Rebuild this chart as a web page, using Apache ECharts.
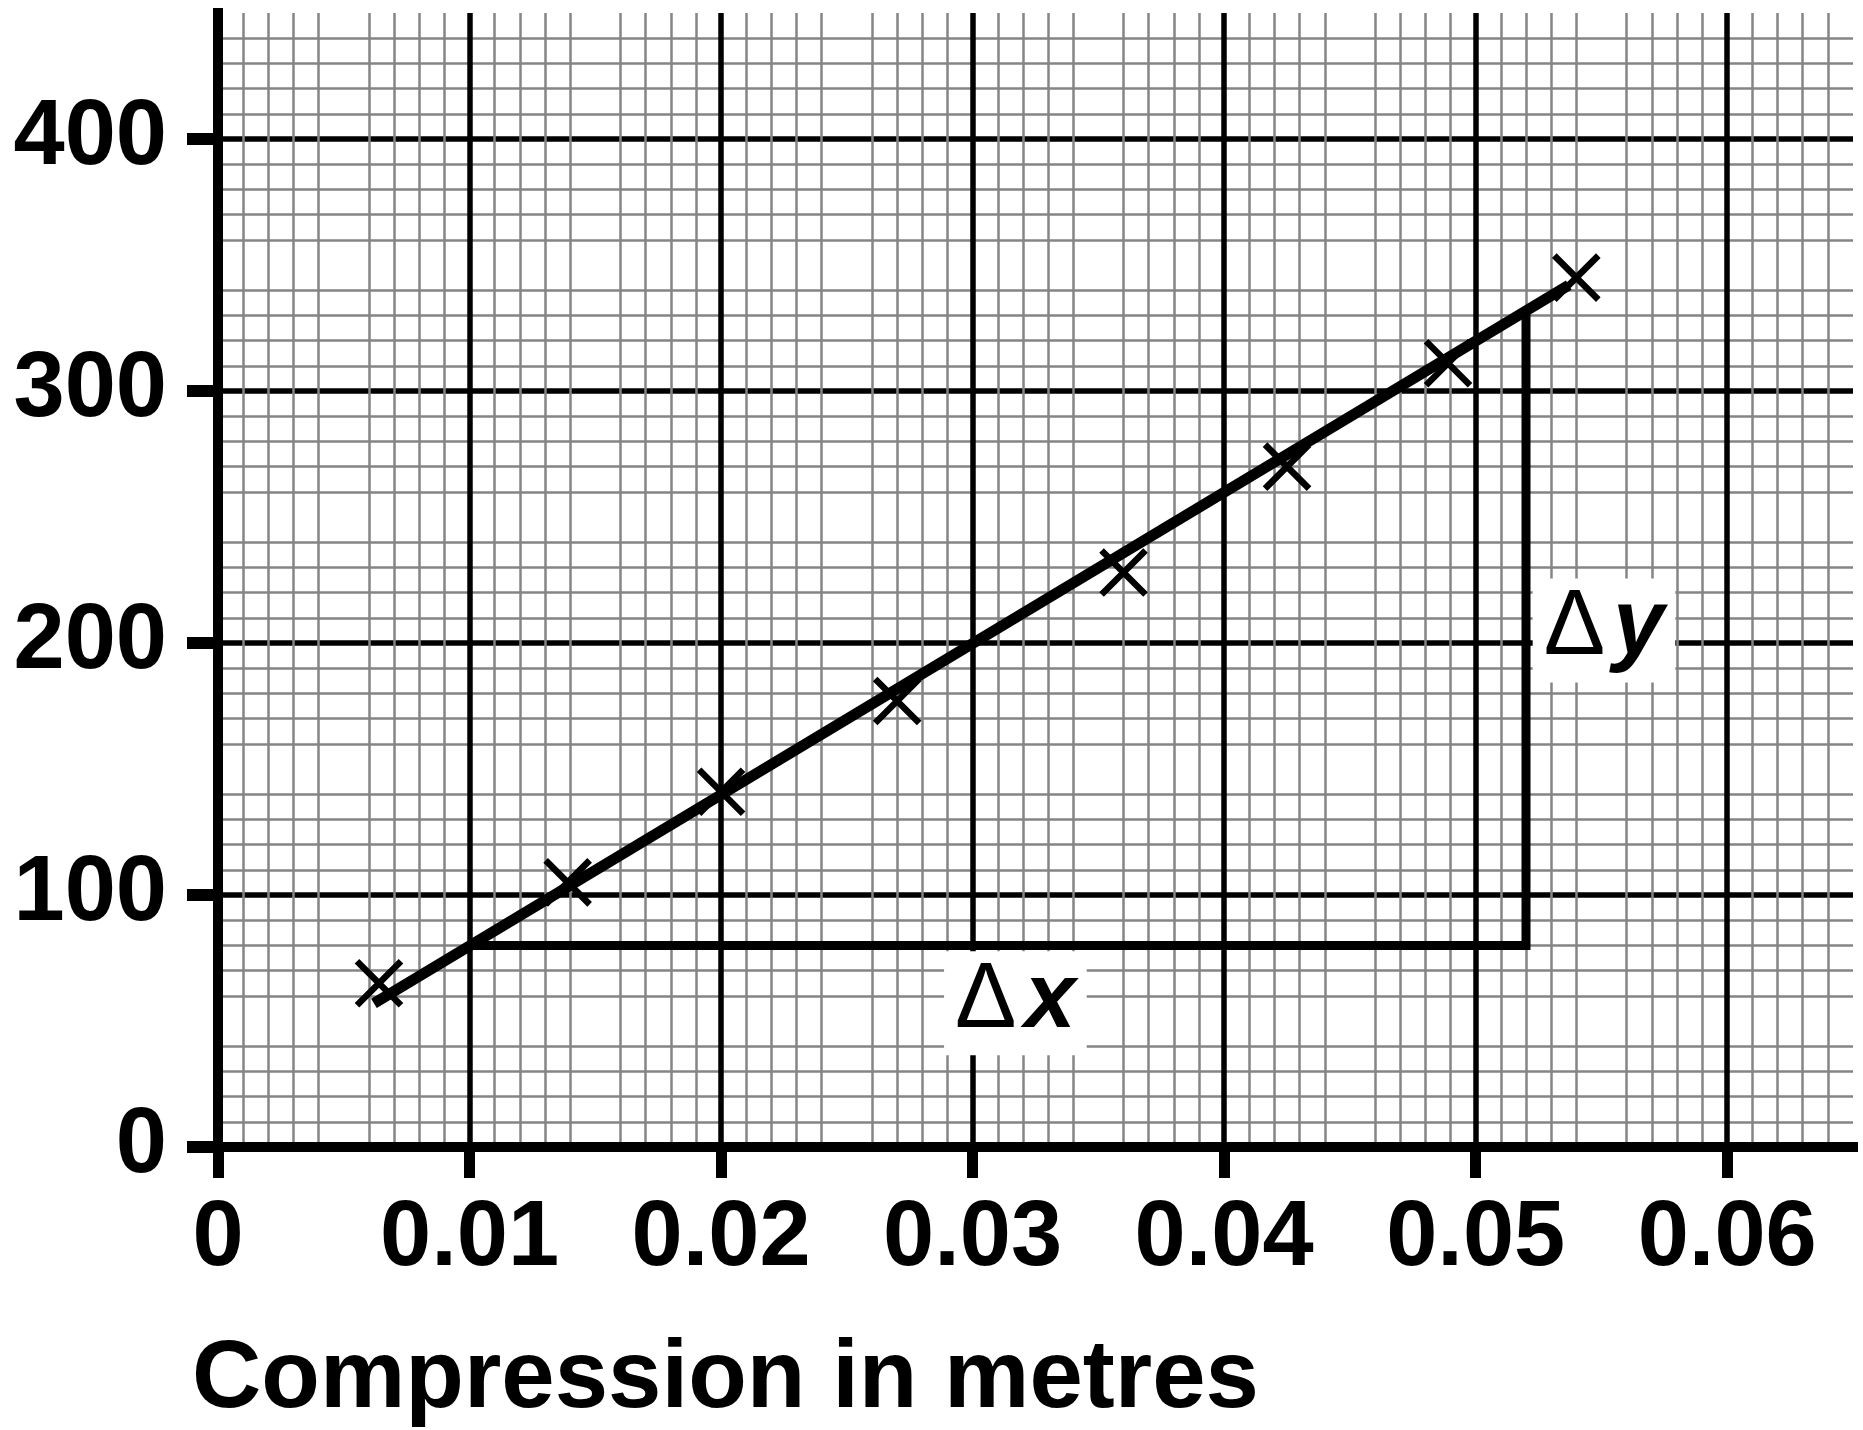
<!DOCTYPE html>
<html><head><meta charset="utf-8">
<script src="https://cdn.jsdelivr.net/npm/echarts@6/dist/echarts.min.js"></script>
<style>html,body{margin:0;padding:0;background:#fff}#c{width:1863px;height:1430px}</style>
</head><body><div id="c"></div>
<script>
// ---- data ----
const compression = [0.0064, 0.0139, 0.0200, 0.0270, 0.0360, 0.0425, 0.0489, 0.0540];
const force = [65, 105, 141, 177, 228, 270, 311, 345];
const fitLine = [[0.0062, 57], [0.0537, 342]];
const gradientTriangle = [[0.010, 80], [0.052, 80], [0.052, 332]];
const xTickValues = [0, 0.01, 0.02, 0.03, 0.04, 0.05, 0.06];
const xTickLabels = ['0', '0.01', '0.02', '0.03', '0.04', '0.05', '0.06'];
const yTickValues = [0, 100, 200, 300, 400];
const yTickLabels = ['0', '100', '200', '300', '400'];
const xTitle = 'Compression in metres';
const annotationPoints = [[0.0317, 57, 'x'], [0.0551, 205, 'y']];

const FONT = '"Liberation Sans", Arial, Helvetica, sans-serif';
function lookup(vals, labels, v) {
  for (let i = 0; i < vals.length; i++) if (Math.abs(vals[i] - v) < 1e-9) return labels[i];
  return '';
}

const chart = echarts.init(document.getElementById('c'), null, {renderer: 'canvas'});
const points = compression.map((c, i) => [c, force[i]]);

chart.setOption({
  animation: false,
  backgroundColor: '#fff',
  title: {
    text: xTitle, left: 187, top: 1328,
    textStyle: {fontFamily: FONT, fontSize: 96, fontWeight: 'bold', color: '#000'}
  },
  grid: {left: 218, right: 10, top: 13, bottom: 283, containLabel: false},
  xAxis: {
    type: 'value', min: 0, max: 0.065, interval: 0.005,
    axisLine: {show: true, onZero: false, lineStyle: {color: '#000', width: 10, cap: 'square'}},
    axisTick: {show: true, length: 31, customValues: xTickValues, lineStyle: {color: '#000', width: 11}},
    axisLabel: {
      show: true, margin: 47, customValues: xTickValues,
      fontFamily: FONT, fontSize: 92, fontWeight: 'bold', color: '#000',
      formatter: v => lookup(xTickValues, xTickLabels, v)
    },
    splitLine: {show: true, lineStyle: {color: '#000', width: 5.5}},
    minorTick: {show: false, splitNumber: 5},
    minorSplitLine: {show: true, lineStyle: {color: '#858585', width: 2.5}}
  },
  yAxis: {
    type: 'value', min: 0, max: 450, interval: 50,
    axisLine: {show: true, onZero: false, lineStyle: {color: '#000', width: 10, cap: 'square'}},
    axisTick: {show: true, length: 31, customValues: yTickValues, lineStyle: {color: '#000', width: 12}},
    axisLabel: {
      show: true, margin: 51, customValues: yTickValues, padding: [0, 0, 36, 0],
      fontFamily: FONT, fontSize: 92, fontWeight: 'bold', color: '#000',
      formatter: v => lookup(yTickValues, yTickLabels, v)
    },
    splitLine: {show: true, lineStyle: {color: '#000', width: 5.5}},
    minorTick: {show: false, splitNumber: 5},
    minorSplitLine: {show: true, lineStyle: {color: '#858585', width: 2.5}}
  },
  series: [
    {
      name: 'triangle', type: 'line', data: gradientTriangle, symbol: 'none', z: 3,
      lineStyle: {color: '#000', width: 9, join: 'miter', opacity: 1}
    },
    {
      name: 'fit', type: 'line', data: fitLine, symbol: 'none', z: 4,
      lineStyle: {color: '#000', width: 11, opacity: 1}
    },
    {
      name: 'data', type: 'scatter', data: points, z: 5,
      symbol: 'path://M0 0L10 10M10 0L0 10', symbolSize: 44,
      itemStyle: {color: 'transparent', borderColor: '#000', borderWidth: 6.5, opacity: 1}
    },
    {
      name: 'labels', type: 'scatter', data: annotationPoints, z: 6,
      symbolSize: 1, itemStyle: {color: 'transparent', opacity: 1},
      label: {
        show: true, position: 'inside', color: '#000', opacity: 1,
        backgroundColor: '#fff', padding: [4, 11, 8, 11],
        formatter: p => '{d|\u0394}{v|' + p.data[2] + '}',
        rich: {
          d: {fontFamily: FONT, fontSize: 92, fontWeight: 'normal', color: '#000'},
          v: {fontFamily: FONT, fontSize: 92, fontWeight: 'bold', fontStyle: 'italic', color: '#000', padding: [0, 0, 0, 8]}
        }
      }
    }
  ]
});
</script>
</body></html>
